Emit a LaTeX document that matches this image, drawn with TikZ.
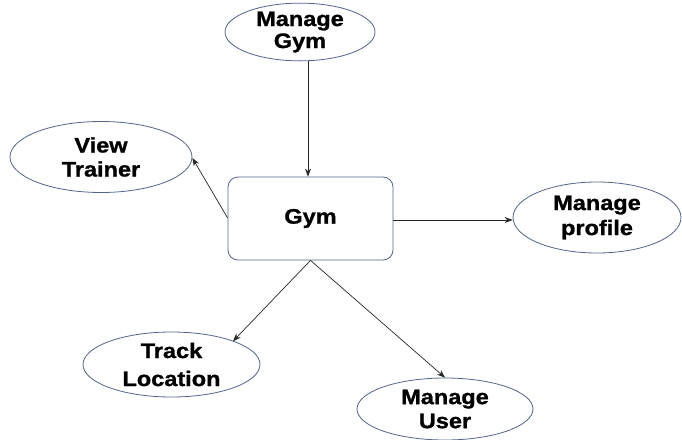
\documentclass[tikz,border=0pt]{standalone}
\usepackage{fontspec}
\setmainfont{Liberation Sans}[FakeStretch=1.12, BoldFeatures={FakeBold=1.2}]
\usetikzlibrary{shapes.geometric,arrows.meta}
\definecolor{edgeblue}{RGB}{80,100,140}
\tikzset{
  usecase/.style={ellipse, draw=edgeblue, line width=0.8pt, inner sep=0pt, font=\bfseries\fontsize{21}{22}\selectfont, align=center},
  sysbox/.style={rounded corners=10pt, draw=edgeblue, line width=0.8pt, font=\bfseries\fontsize{21}{22}\selectfont, align=center},
  link/.style={draw=black!85, line width=0.7pt, -{Stealth[length=8pt,width=6pt]}}
}
\begin{document}
\begin{tikzpicture}[x=1pt,y=-1pt]
\useasboundingbox (0,0) rectangle (682,439);
\node[usecase, minimum width=150pt, minimum height=57pt] (mg) at (300,32) {Manage\\Gym};
\node[usecase, minimum width=182pt, minimum height=71pt, font=\bfseries\fontsize{21}{24}\selectfont] (vt) at (101,157) {View\\Trainer};
\node[sysbox, minimum width=165pt, minimum height=83pt] (gym) at (310.5,218.5) {Gym};
\node[usecase, minimum width=168pt, minimum height=71pt, font=\bfseries\fontsize{21}{25}\selectfont] (mp) at (597,217.5) {Manage\\profile};
\node[usecase, minimum width=177pt, minimum height=65pt, font=\bfseries\fontsize{21}{28}\selectfont] (tl) at (171.5,364.5) {Track\\Location};
\node[usecase, minimum width=176pt, minimum height=62pt, font=\bfseries\fontsize{21}{24}\selectfont] (mu) at (445,409) {Manage\\User};
\draw[link] (mg.south -| 308,0) -- (gym.north -| 308,0);
\draw[link] (gym.west |- 0,218) -- (vt.east |- 0,158);
\draw[link] (gym.east |- 0,220) -- (mp.west |- 0,220);
\draw[link] (gym.south) -- (tl.north east -| 233,0);
\draw[link] (gym.south) -- (mu.north);
\end{tikzpicture}
\end{document}
